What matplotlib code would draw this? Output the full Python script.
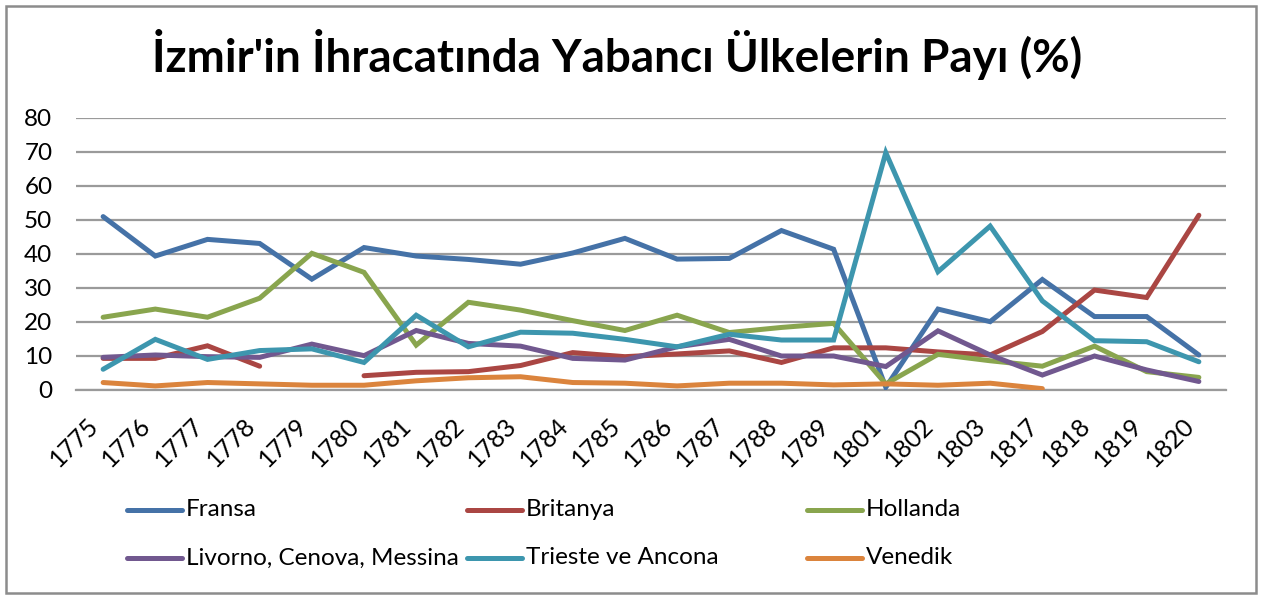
import numpy as np
import matplotlib
matplotlib.use("Agg")
import matplotlib.pyplot as plt
import matplotlib.transforms as mtransforms
from matplotlib.lines import Line2D
from matplotlib.patches import Rectangle

nan = np.nan
years = ["1775", "1776", "1777", "1778", "1779", "1780", "1781", "1782", "1783",
         "1784", "1785", "1786", "1787", "1788", "1789", "1801", "1802", "1803",
         "1817", "1818", "1819", "1820"]

fransa = [51, 39.4, 44.3, 43.1, 32.6, 41.9, 39.4, 38.4, 37.0, 40.3, 44.6, 38.5,
          38.7, 46.9, 41.4, 0.8, 23.8, 20.1, 32.5, 21.6, 21.6, 10.3]
britanya = [9.3, 9.3, 13.0, 7.0, nan, 4.2, 5.2, 5.4, 7.2, 11.0, 9.8, 10.6,
            11.5, 8.1, 12.4, 12.4, 11.2, 10.3, 17.2, 29.4, 27.2, 51.4]
hollanda = [21.4, 23.8, 21.4, 27.0, 40.2, 34.6, 13.2, 25.8, 23.5, 20.4, 17.5, 22.0,
            16.9, 18.4, 19.6, 1.8, 10.5, 8.6, 7.0, 12.9, 5.4, 3.7]
livorno = [9.6, 10.3, 9.8, 9.6, 13.5, 10.1, 17.5, 13.7, 12.9, 9.3, 8.8, 12.7,
           14.9, 10.0, 10.0, 6.9, 17.4, 10.3, 4.4, 10.0, 5.9, 2.5]
trieste = [6.1, 14.9, 9.0, 11.6, 12.1, 8.1, 22.0, 12.7, 17.0, 16.7, 14.9, 12.7,
           16.4, 14.7, 14.7, 69.8, 34.8, 48.2, 26.2, 14.5, 14.2, 8.3]
venedik = [2.2, 1.2, 2.2, 1.8, 1.4, 1.4, 2.7, 3.6, 3.9, 2.2, 2.0, 1.2,
           2.0, 2.0, 1.5, 1.8, 1.4, 2.0, 0.4, nan, nan, nan]

series_names = ["Fransa", "Britanya", "Hollanda", "Livorno, Cenova, Messina",
                "Trieste ve Ancona", "Venedik"]
series_values = [fransa, britanya, hollanda, livorno, trieste, venedik]
colors = ["#4572A7", "#AA4643", "#89A54E", "#71588F", "#3D96AE", "#DB843D"]

title = "İzmir'in İhracatında Yabancı Ülkelerin Payı (%)"
yticks = [0, 10, 20, 30, 40, 50, 60, 70, 80]

W, H = 1266, 595
FONT = "Lato"
fig = plt.figure(figsize=(W / 100, H / 100), dpi=100)

# outer border
fig.add_artist(Rectangle((6 / W, 1 - 593 / H), 1250 / W, 587 / H,
                         transform=fig.transFigure, fill=False,
                         edgecolor="#8c8c8c", linewidth=1.8))

ax = fig.add_axes([76 / W, 1 - 390 / H, (1226 - 76) / W, (390 - 118) / H])
x = np.arange(len(years))
for vals, c in zip(series_values, colors):
    ax.plot(x, vals, color=c, linewidth=3.6, solid_capstyle="round",
            solid_joinstyle="miter", zorder=3)

ax.set_xlim(-0.52, len(years) - 1 + 0.52)
ax.set_ylim(0, 80)
ax.set_yticks(yticks)
ax.set_yticklabels([str(v) for v in yticks], fontsize=17.5, family=FONT)
ax.set_xticks(x)
ax.set_xticklabels(years, rotation=45, ha="right", fontsize=18, family=FONT)
offset = mtransforms.ScaledTranslation(8 / 100, 0, fig.dpi_scale_trans)
for lab in ax.get_xticklabels():
    lab.set_transform(lab.get_transform() + offset)
ax.tick_params(axis="both", length=0)
ax.tick_params(axis="x", pad=17)
ax.tick_params(axis="y", pad=17)
ax.grid(axis="y", color="#9a9a9a", linewidth=1.6, zorder=0)
for s in ["top", "right", "left"]:
    ax.spines[s].set_visible(False)
ax.spines["bottom"].set_color("#9a9a9a")
ax.spines["bottom"].set_linewidth(1.6)

fig.text(617 / W, 1 - 55 / H, title, ha="center", va="center",
         fontsize=33, fontweight="bold", family=FONT)

# legend (3 columns x 2 rows)
col_x = [127, 467, 807]
row_y = [510, 558]
for i, (name, c) in enumerate(zip(series_names, colors)):
    cx = col_x[i % 3]
    cy = row_y[i // 3]
    fig.add_artist(Line2D([cx / W, (cx + 55) / W], [1 - cy / H, 1 - cy / H],
                          transform=fig.transFigure, color=c, linewidth=3.6,
                          solid_capstyle="round"))
    fig.text((cx + 59) / W, 1 - cy / H, name, ha="left", va="center",
             fontsize=17.5, family=FONT)

fig.savefig("out.png", dpi=100)
